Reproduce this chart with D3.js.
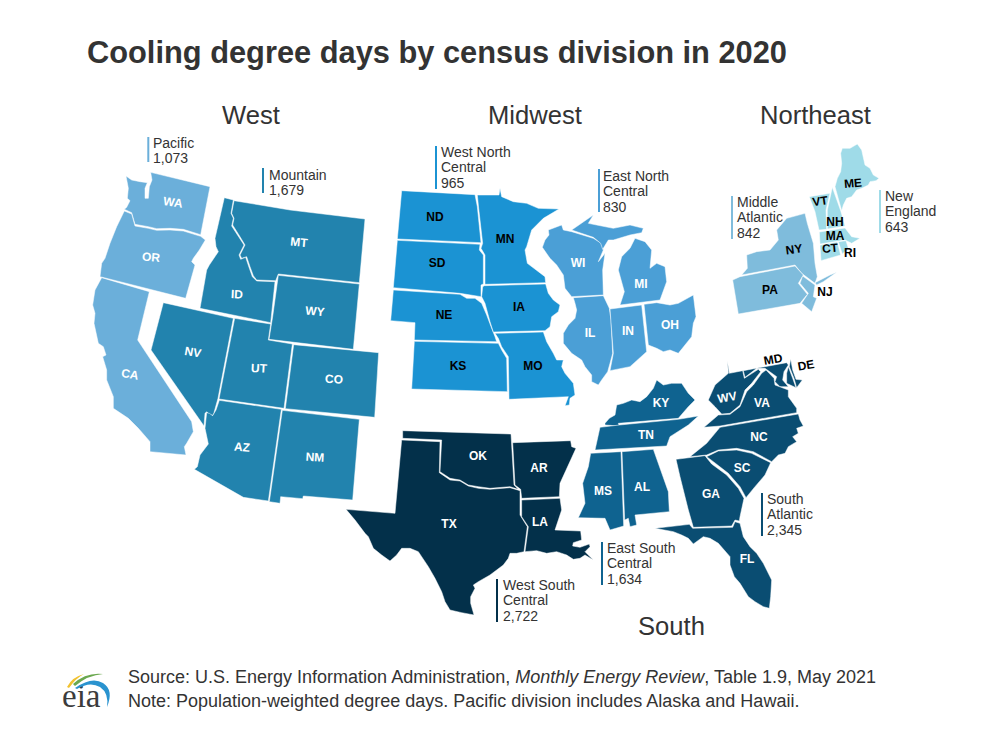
<!DOCTYPE html>
<html>
<head>
<meta charset="utf-8">
<title>Cooling degree days</title>
<script src="https://cdnjs.cloudflare.com/ajax/libs/d3/7.8.5/d3.min.js"></script>
<style>
	body { margin: 0; background: #fff; }
	text { font-family: "Liberation Sans", Arial, sans-serif; }
</style>
</head>
<body>
<svg id="cdd-map" width="1000" height="740"></svg>
<script>
// GLOBAL CONSTANTS
// - data
const divisionNames = ['Pacific', 'Mountain', 'West North Central', 'East North Central', 'Middle Atlantic', 'New England', 'West South Central', 'East South Central', 'South Atlantic'];
const divisionCdd = [1073, 1679, 965, 830, 842, 643, 2722, 1634, 2345];
const divisionColors = ['#6bafda', '#2283ae', '#1b93d3', '#4b9fd6', '#7fbcdc', '#9fdbe8', '#03304a', '#0f6390', '#0a4d72'];
const divisionStates = [
	['WA', 'OR', 'CA'],
	['MT', 'ID', 'WY', 'NV', 'UT', 'CO', 'AZ', 'NM'],
	['ND', 'SD', 'MN', 'NE', 'IA', 'KS', 'MO'],
	['WI', 'MI', 'IL', 'IN', 'OH'],
	['NY', 'PA', 'NJ'],
	['ME', 'NH', 'VT', 'MA', 'CT', 'RI'],
	['OK', 'TX', 'AR', 'LA'],
	['KY', 'TN', 'MS', 'AL'],
	['WV', 'MD', 'DE', 'VA', 'NC', 'SC', 'GA', 'FL']
];
const regionNames = ['West', 'Midwest', 'Northeast', 'South'];

// - state outlines at 3x, each with the origin of its tracing
const outlineOrigins = {
	a: [90, 130], b: [90, 300], c: [380, 140], d: [530, 160], e: [720, 140], f: [340, 420], g: [560, 370], h: [640, 340]
};
const stateOutlines = {
	WA: ['a', '182,127 360,170 332,314 280,298 240,295 200,296 175,290 135,283 125,248 103,238 110,232 120,212 112,205 115,175 108,138 125,150 150,155 172,158 165,175 165,205 175,205 178,170 186,150'],
	OR: ['a', '103,243 125,252 135,288 175,295 200,301 240,300 280,303 332,319 346,330 328,360 310,385 305,395 315,405 287,505 30,440 35,400 45,385 60,340 80,290'],
	CA: ['b', '35,-67 178,-25 143,120 305,365 310,395 290,430 283,440 288,465 180,455 180,425 145,385 115,355 70,325 70,290 50,240 50,210 38,170 48,165 40,140 25,130 12,70 15,40 8,15 15,-30'],
	MT: ['a', '432,212 600,240 825,267 808,458 565,432 557,452 500,450 490,437 480,410 470,380 455,385 450,375 465,345 450,320 428,285 432,265 425,250'],
	ID: ['a', '403,203 430,210 423,250 430,265 425,288 447,322 462,345 447,375 452,388 467,382 477,412 487,440 500,453 555,455 542,578 330,535 350,420 358,405 385,365 378,350 375,325'],
	WY: ['a', '565,436 808,462 790,658 537,628 548,560'],
	NV: ['b', '220,8 430,55 384,295 370,345 360,345 350,335 345,340 342,378 183,150'],
	UT: ['b', '434,55 542,72 535,120 607,132 582,325 387,297'],
	CO: ['b', '611,134 866,158 854,352 586,326'],
	AZ: ['b', '388,301 574,328 535,603 460,592 313,508 322,500 330,465 355,432 345,385 350,338 358,340 368,347 378,330'],
	NM: ['b', '577,331 808,358 788,600 640,588 638,596 572,590 570,610 538,605'],
	ND: ['c', '65,152 285,164 292,200 303,308 52,297'],
	SD: ['c', '52,301 300,313 298,330 310,345 310,432 303,435 303,470 240,460 40,443'],
	MN: ['c', '292,165 357,165 360,145 365,170 400,185 440,190 475,205 537,207 490,235 455,270 440,320 435,330 442,370 495,410 497,428 315,433 315,345 303,325 308,310 296,205'],
	IA: ['c', '313,437 497,432 505,460 520,480 540,495 535,515 515,530 510,560 495,572 340,576 330,545 315,490 305,470 308,440'],
	NE: ['c', '40,450 240,463 260,475 285,475 305,490 320,525 335,565 345,590 350,605 103,600 105,548 32,542'],
	KS: ['c', '103,604 355,610 365,630 380,655 382,755 95,747'],
	MO: ['c', '345,580 490,576 500,605 520,640 530,660 550,660 545,680 555,700 580,730 585,765 570,775 568,795 555,797 565,770 387,778 385,650 375,635 365,620 355,595'],
	WI: ['d', '55,210 95,195 100,210 125,215 190,235 215,250 220,270 205,305 225,280 218,330 220,405 125,410 105,385 100,345 80,315 60,295 37,262 45,240 57,225'],
	MI: ['d', '125,210 190,165 175,190 200,195 250,205 300,195 340,205 335,218 300,225 250,240 235,240 218,268 212,250 190,232', '315,235 345,245 365,270 360,325 380,310 405,320 410,365 390,420 270,435 283,395 265,330 275,290 300,265'],
	IL: ['d', '130,413 220,407 238,445 243,480 248,580 240,610 233,635 215,660 205,675 185,665 185,645 165,620 155,600 125,580 100,550 100,520 115,495 135,475 140,450 135,430'],
	IN: ['d', '240,447 335,435 350,575 300,620 240,632 250,580'],
	OH: ['d', '342,433 380,428 420,435 445,430 490,405 498,470 490,490 485,530 465,555 445,580 420,570 400,575 380,565 355,555'],
	NY: ['e', '255,220 262,250 280,310 285,370 292,410 285,430 245,400 225,375 65,405 82,385 80,345 110,335 150,330 175,300 170,270 200,235', '285,428 330,405 350,397 310,425 290,435'],
	PA: ['e', '60,410 225,378 250,405 235,430 262,463 240,490 55,522 38,420'],
	NJ: ['e', '248,408 285,435 280,470 290,475 275,515 245,490 265,460 240,430'],
	ME: ['e', '345,140 352,115 362,95 365,70 362,40 367,25 390,25 412,12 425,30 435,75 450,85 460,105 477,115 468,122 450,125 445,135 425,145 410,150 395,170 380,175 370,195 365,212'],
	NH: ['e', '337,142 362,212 375,258 322,267 322,210'],
	VT: ['e', '268,170 330,160 318,210 320,268 297,270 285,215'],
	MA: ['e', '298,276 375,264 395,290 420,295 395,310 375,300 300,312'],
	CT: ['e', '300,316 352,306 362,345 303,362'],
	RI: ['e', '355,305 378,302 385,325 367,342'],
	OK: ['f', '188,32 513,42 522,195 535,208 510,200 450,205 415,200 385,195 360,180 330,175 300,155 305,60 188,55'],
	TX: ['f', '185,60 300,65 298,158 330,180 360,183 385,198 415,205 450,208 510,203 540,212 540,285 562,320 552,395 530,400 510,400 505,415 490,435 450,465 415,485 400,495 405,505 392,530 392,550 402,585 365,578 330,570 315,545 305,515 285,475 265,440 245,410 235,395 210,385 185,385 170,405 150,423 125,405 100,385 85,350 75,340 45,300 18,268 165,280'],
	AR: ['f', '518,68 692,62 695,80 708,85 660,190 658,230 545,235 542,208 525,195'],
	LA: ['f', '545,240 660,235 665,270 645,330 722,333 725,360 700,368 698,378 720,382 748,372 750,380 735,395 760,420 735,405 720,415 700,418 680,405 650,395 620,400 590,392 555,395 565,320 545,290'],
	KY: ['g', '135,160 148,145 165,135 170,105 190,100 215,90 240,95 260,80 280,55 290,30 310,45 335,40 365,40 385,70 405,90 385,110 355,145 175,160 178,168 135,165'],
	TN: ['g', '120,172 178,165 355,148 415,138 385,165 330,200 320,228 105,240'],
	MS: ['g', '92,250 183,245 191,468 150,480 135,445 55,443 75,400 68,340 85,290'],
	AL: ['g', '186,245 280,238 325,365 328,425 225,435 230,465 210,470 205,445 194,450'],
	WV: ['h', '262,62 268,100 308,92 313,115 355,88 362,95 335,130 315,150 300,195 270,220 245,222 225,200 205,180 225,135 265,100'],
	MD: ['h', '310,92 440,68 445,75 432,95 428,120 445,140 420,140 405,125 410,110 375,85 350,85 315,112', '445,80 458,115 468,143 440,130 440,100'],
	DE: ['h', '452,57 458,90 468,118 487,120 470,143 462,115 448,80'],
	VA: ['h', '192,262 235,225 270,223 300,200 320,155 340,135 365,100 378,90 402,115 405,135 445,150 445,170 470,205 470,218 240,258'],
	NC: ['h', '240,262 475,222 480,240 490,258 470,265 475,280 458,290 470,305 445,320 435,340 415,345 395,365 340,335 290,325 235,330 200,345 150,350 200,310'],
	SC: ['h', '200,350 235,333 290,330 335,340 392,368 375,405 345,440 318,473 300,440 265,400 220,365'],
	GA: ['h', '108,358 195,347 215,372 260,405 295,445 312,475 300,530 298,543 285,540 275,558 160,562 145,510 120,410'],
	FL: ['h', '45,565 148,553 158,565 278,562 285,545 300,550 310,590 330,620 350,640 370,670 395,720 392,770 388,805 370,800 345,785 325,770 300,730 283,710 270,675 270,650 235,610 210,595 190,590 160,612 145,595 125,585 100,575']
};

// - layout
const svg = d3.select('#cdd-map');
const textColor = '#333333';
const stateLabelSize = 12; // in px
const calloutSize = 14; // in px
const calloutLeading = 15.4; // in px
const regionLayout = [[222, 124], [488, 124], [760, 124], [638, 635]];
// x of bar, top of bar, x of text, first baseline, wrapped lines
const calloutLayout = [
	[148.3, 137, 153, 148, ['Pacific']],
	[263, 168, 269, 180, ['Mountain']],
	[436, 146, 441, 157, ['West North', 'Central']],
	[599, 169, 603, 181, ['East North', 'Central']],
	[732, 196, 737, 207, ['Middle', 'Atlantic']],
	[880, 190, 885, 201, ['New', 'England']],
	[497, 579, 503, 590, ['West South', 'Central']],
	[602, 542, 607, 553, ['East South', 'Central']],
	[762, 493, 767, 504, ['South', 'Atlantic']]
];
// center x, center y, rotation, dark text
const stateLabelLayout = {
	WA: [173, 202, 8], OR: [151, 257, 5], CA: [130, 374, 10],
	MT: [299, 242, 5], ID: [237, 294, 3], WY: [315, 311, 5], NV: [193, 352, 10], UT: [259, 368, 3], CO: [334, 379, 3], AZ: [242, 447, 5], NM: [315, 457, 3],
	ND: [435, 217, 0, 1], SD: [437, 263, 0, 1], MN: [505, 239, 0, 1], NE: [444, 315, 0, 1], IA: [519, 307, 0, 1], KS: [458, 366, 0, 1], MO: [533, 366, 0, 1],
	WI: [578, 263, 0], MI: [641, 284, 0], IL: [590, 333, 0], IN: [628, 331, 0], OH: [670, 325, 0],
	NY: [794, 249, -8, 1], PA: [770, 290, 0, 1], NJ: [825, 292, 0, 1],
	VT: [820, 201, -8, 1], NH: [835, 222, 0, 1], ME: [853, 183, -5, 1], MA: [835, 236, 0, 1], CT: [830, 248, -5, 1], RI: [850, 253, 0, 1],
	OK: [478, 456, 0], AR: [539, 468, 0], TX: [449, 524, 0], LA: [540, 522, 0],
	KY: [661, 403, 0], TN: [646, 435, 0], MS: [603, 491, 0], AL: [642, 487, 0],
	WV: [727, 397, -10], VA: [762, 403, 0], NC: [759, 437, 0], SC: [742, 468, 0], GA: [711, 494, 0], FL: [747, 559, 0],
	MD: [773, 359, -10, 1], DE: [806, 365, -10, 1]
};

// turns one traced state into a GeoJSON feature in page pixels
function buildFeature(code, color){
	const outline = stateOutlines[code];
	const origin = outlineOrigins[outline[0]];
	const scaleX = d3.scaleLinear().domain([0, 3]).range([origin[0], origin[0] + 1]);
	const scaleY = d3.scaleLinear().domain([0, 3]).range([origin[1], origin[1] + 1]);
	const polygons = outline.slice(1).map(function(ring){
		const points = ring.split(' ').map(function(pair){
			const xy = pair.split(',').map(Number);
			return [scaleX(xy[0]), scaleY(xy[1])];
		});
		points.push(points[0]);
		return [points];
	});
	return {
		type: 'Feature',
		properties: { code: code, color: color },
		geometry: { type: 'MultiPolygon', coordinates: polygons }
	};
}

// draws the filled states and their abbreviations
function drawStates(){
	const path = d3.geoPath(d3.geoIdentity());
	const features = [];
	divisionStates.forEach(function(codes, i){
		codes.forEach(function(code){ features.push(buildFeature(code, divisionColors[i])); });
	});

	svg.append('g').selectAll('path')
		.data(features)
		.join('path')
			.attr('d', path)
			.attr('fill', d => d.properties.color)
			.attr('stroke', '#fff')
			.attr('stroke-width', 0.5)
			.attr('stroke-linejoin', 'round');

	svg.append('g').selectAll('text')
		.data(features)
		.join('text')
			.attr('transform', function(d){
				const pos = stateLabelLayout[d.properties.code];
				return 'translate(' + pos[0] + ',' + pos[1] + ') rotate(' + pos[2] + ')';
			})
			.attr('dy', '0.36em')
			.attr('text-anchor', 'middle')
			.attr('font-size', stateLabelSize)
			.attr('font-weight', 'bold')
			.attr('fill', d => stateLabelLayout[d.properties.code][3] ? '#000' : '#fff')
			.text(d => d.properties.code);
}

// draws the bar and the name + value next to each division
function drawCallouts(){
	const format = d3.format(',');
	divisionNames.forEach(function(name, i){
		const pos = calloutLayout[i];
		const lines = pos[4].concat(format(divisionCdd[i]));
		const barHeight = lines.length == 2 ? 25 : 43;

		svg.append('rect')
			.attr('x', pos[0] - 1)
			.attr('y', pos[1])
			.attr('width', 2)
			.attr('height', barHeight)
			.attr('fill', divisionColors[i]);

		lines.forEach(function(line, j){
			svg.append('text')
				.attr('x', pos[2])
				.attr('y', pos[3] + j * calloutLeading)
				.attr('font-size', calloutSize)
				.attr('fill', textColor)
				.text(line);
		});
	});
}

// draws title, region names and footer
function drawText(){
	svg.append('text')
		.attr('x', 87)
		.attr('y', 63)
		.attr('font-size', 30.8)
		.attr('font-weight', 'bold')
		.attr('fill', textColor)
		.text('Cooling degree days by census division in 2020');

	regionNames.forEach(function(name, i){
		svg.append('text')
			.attr('x', regionLayout[i][0])
			.attr('y', regionLayout[i][1])
			.attr('font-size', 25.6)
			.attr('fill', textColor)
			.text(name);
	});

	const source = svg.append('text')
		.attr('x', 128)
		.attr('y', 683)
		.attr('font-size', 18)
		.attr('fill', textColor);
	source.append('tspan').text('Source: U.S. Energy Information Administration, ');
	source.append('tspan').attr('font-style', 'italic').text('Monthly Energy Review');
	source.append('tspan').text(', Table 1.9, May 2021');

	svg.append('text')
		.attr('x', 128)
		.attr('y', 707)
		.attr('font-size', 18)
		.attr('fill', textColor)
		.text('Note: Population-weighted degree days. Pacific division includes Alaska and Hawaii.');
}

// draws the eia logo in the lower left corner
function drawLogo(){
	const logo = svg.append('g');
	logo.append('text')
		.attr('x', 62)
		.attr('y', 707)
		.attr('font-size', 33)
		.attr('fill', '#3c3c3c')
		.style('font-family', '"Liberation Serif", serif')
		.text('eia');

	logo.append('path').attr('d', 'M67,687 Q72,677 84,674 Q76,678 69,688 Z').attr('fill', '#f2c230');
	logo.append('path').attr('d', 'M73,684 Q86,672 103,674 Q88,675 75,686 Z').attr('fill', '#6aa84f');
	logo.append('path').attr('d', 'M75,688 Q92,676 103,683 Q114,690 107,707 Q109,693 100,687 Q90,681 77,689 Z').attr('fill', '#2a93cf');
}

drawStates();
drawCallouts();
drawText();
drawLogo();
</script>
</body>
</html>
